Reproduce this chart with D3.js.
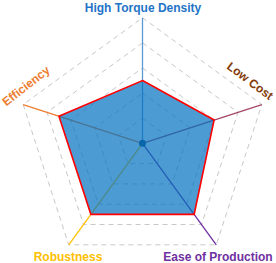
<!DOCTYPE html>
<html><head><meta charset="utf-8">
<script src="https://cdn.jsdelivr.net/npm/d3@7"></script>
<style>body{margin:0;background:#fff}svg{display:block}</style>
</head><body>
<svg id="c" width="276" height="263"></svg>
<script>
const axes = ["High Torque Density","Low Cost","Ease of Production","Robustness","Efficiency"];
const values = [2.5, 3, 3.5, 3.5, 3.5];
const levels = [1, 2, 3, 4, 5];
const axisColors = ["#5b9bd5","#a5476a","#7030a0","#ffc000","#ed7d31"];
const labelColors = ["#1f74c8","#843c0c","#7030a0","#ffc000","#ed7d31"];

const svg = d3.select("#c");
const cx = 142.5, cy = 143.3, R = 125.5;
const r = d3.scaleLinear().domain([0, 5]).range([0, R]);
const ang = i => i * 2 * Math.PI / axes.length;
const pt = (i, v) => [cx + r(v) * Math.sin(ang(i)), cy - r(v) * Math.cos(ang(i))];
const g = svg.append("g");

// grid
levels.forEach(l => {
  g.append("polygon")
    .attr("points", axes.map((a, i) => pt(i, l).join(",")).join(" "))
    .attr("fill", "none").attr("stroke", "#c8c8c8").attr("stroke-width", 1)
    .attr("stroke-dasharray", "5,4");
});
// axes
axes.forEach((a, i) => {
  const p = pt(i, 5);
  g.append("line").attr("x1", cx).attr("y1", cy).attr("x2", p[0]).attr("y2", p[1])
    .attr("stroke", axisColors[i]).attr("stroke-width", 1.3);
});
g.append("circle").attr("cx", cx).attr("cy", cy).attr("r", 3.5).attr("fill", "#1f4e79");
// data
g.append("polygon")
  .attr("points", values.map((v, i) => pt(i, v).join(",")).join(" "))
  .attr("fill", "#0070c0").attr("fill-opacity", 0.7)
  .attr("stroke", "#ff0000").attr("stroke-width", 1.6).attr("stroke-linejoin", "miter");

// labels
const labelPos = [[143, 8, 0], [250, 81, 37], [218, 257, 0], [68, 257, 0], [26, 86, -38]];
axes.forEach((a, i) => {
  const [x, y, rot] = labelPos[i];
  g.append("text").attr("transform", `translate(${x},${y}) rotate(${rot})`)
    .attr("text-anchor", "middle").attr("dominant-baseline", "central")
    .attr("font-family", "Liberation Sans, Arial, sans-serif").attr("font-weight", "bold")
    .attr("font-size", 12).attr("fill", labelColors[i]).text(a);
});
</script>
</body></html>
